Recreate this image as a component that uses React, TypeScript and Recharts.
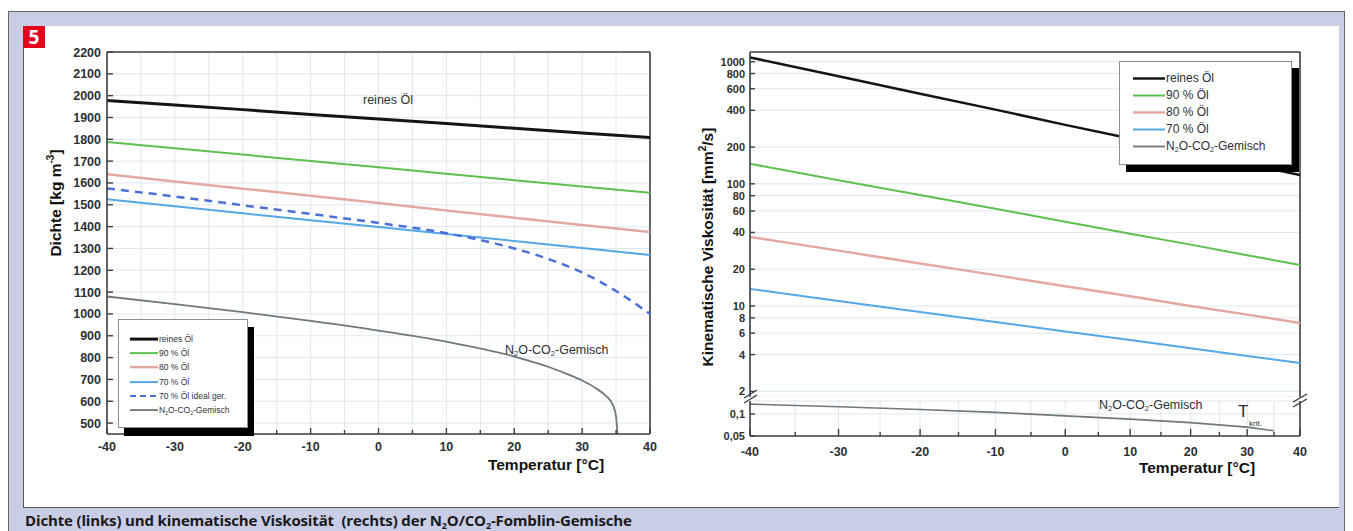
import React from 'react';
import { LineChart, Line, XAxis, YAxis, CartesianGrid, ReferenceLine } from 'recharts';

// ---- left panel: density ----
const tempsL = [-40, -30, -20, -10, 0, 10, 20, 30, 40];
const densPure = [1978, 1957, 1936, 1914, 1893, 1872, 1851, 1829, 1808];
const dens90 = [1788, 1759, 1730, 1701, 1672, 1642, 1613, 1584, 1555];
const dens80 = [1640, 1607, 1574, 1541, 1508, 1474, 1441, 1408, 1375];
const dens70 = [1525, 1493, 1461, 1429, 1398, 1366, 1334, 1302, 1270];
const tempsIdeal = [-40, -30, -20, -10, 0, 10, 20, 25, 30, 35, 40];
const dens70Ideal = [1575, 1538, 1498, 1458, 1417, 1370, 1300, 1252, 1190, 1105, 1000];
const tempsGas = [-40, -30, -20, -10, 0, 10, 20, 25, 28, 30, 32, 33.5, 34.5, 35, 35.2];
const densGas = [1080, 1045, 1008, 968, 924, 873, 805, 758, 722, 695, 660, 625, 585, 530, 450];

const xTicksL = [-40, -35, -30, -25, -20, -15, -10, -5, 0, 5, 10, 15, 20, 25, 30, 35, 40];
const yTicksL = [500, 600, 700, 800, 900, 1000, 1100, 1200, 1300, 1400, 1500, 1600, 1700, 1800, 1900, 2000, 2100, 2200];

// ---- right panel: kinematic viscosity (x axis is 1/T) ----
const tempsR = [-40, -30, -20, -10, 0, 10, 20, 30, 40];
const viscPure = [1084, 759, 546, 405, 304, 235, 184, 146, 118];
const visc90 = [146, 107, 81, 62.5, 49, 39, 31.8, 26, 21.7];
const visc80 = [36.8, 28.4, 22.3, 17.9, 14.5, 12.0, 10.0, 8.5, 7.26];
const visc70 = [13.8, 11.0, 8.95, 7.4, 6.19, 5.26, 4.51, 3.9, 3.41];
const tempsGasR = [-40, -30, -20, -10, 0, 10, 20, 30, 35];
const viscGas = [0.136, 0.125, 0.115, 0.105, 0.094, 0.085, 0.076, 0.066, 0.059];

const xTempsR = [-40, -35, -30, -25, -20, -15, -10, -5, 0, 5, 10, 15, 20, 25, 30, 35, 40];
const yTicksUpper = [2, 4, 6, 8, 10, 20, 40, 60, 80, 100, 200, 400, 600, 800, 1000];
const yTicksLower = [0.05, 0.1];

const inv = (t: number) => 1000 / (t + 273.15);
const INV_MIN = inv(40);
const INV_MAX = inv(-40);

const rowsL = (xs: number[], ys: number[]) => xs.map((t, i) => ({ t, v: ys[i] }));
const rowsR = (xs: number[], ys: number[]) => xs.map((t, i) => ({ inv: inv(t), v: ys[i] }));

const FONT = '"Liberation Sans", Arial, Helvetica, sans-serif';
const AX = '#3a4045';
const TXT = '#2c3034';
const GRID = '#dfe7ef';

const C_PURE = '#141414';
const C_90 = '#5fbf4f';
const C_80 = '#e4a8a3';
const C_70 = '#55a7e6';
const C_IDEAL = '#4d6fd6';
const C_GAS = '#6f787c';

const Gas = () => (
  <span>
    N<sub style={{ fontSize: '0.6em', verticalAlign: '-0.3em' }}>2</sub>O-CO
    <sub style={{ fontSize: '0.6em', verticalAlign: '-0.3em' }}>2</sub>-Gemisch
  </span>
);

function LeftXTick(props: any) {
  const { x, y, payload } = props;
  const v = payload.value;
  const major = v % 10 === 0;
  return (
    <g>
      <line x1={x} x2={x} y1={y} y2={y - (major ? 6 : 4)} stroke={AX} strokeWidth={1.4} />
      {major && (
        <text x={x} y={y + 17} textAnchor="middle" fontSize={12.5} fontWeight={700} fill={TXT} fontFamily={FONT}>
          {v}
        </text>
      )}
    </g>
  );
}

function LeftYTick(props: any) {
  const { x, y, payload } = props;
  return (
    <g>
      <line x1={x} x2={x + 6} y1={y} y2={y} stroke={AX} strokeWidth={1.4} />
      <text x={x - 6} y={y + 4.5} textAnchor="end" fontSize={12.5} fontWeight={700} fill={TXT} fontFamily={FONT}>
        {payload.value}
      </text>
    </g>
  );
}

function RightXTick(props: any) {
  const { x, y, payload } = props;
  const t = Math.round(1000 / payload.value - 273.15);
  const major = t % 10 === 0;
  return (
    <g>
      <line x1={x} x2={x} y1={y} y2={y - (major ? 7 : 4)} stroke={AX} strokeWidth={1.4} />
      {major && (
        <text x={x} y={y + 20} textAnchor="middle" fontSize={12.5} fontWeight={700} fill={TXT} fontFamily={FONT}>
          {t}
        </text>
      )}
    </g>
  );
}

function RightYTick(props: any) {
  const { x, y, payload } = props;
  const label = String(payload.value).replace('.', ',');
  return (
    <g>
      <line x1={x} x2={x + 5} y1={y} y2={y} stroke={AX} strokeWidth={1.4} />
      <text x={x - 5} y={y + 4} textAnchor="end" fontSize={11} fontWeight={700} fill={TXT} fontFamily={FONT}>
        {label}
      </text>
    </g>
  );
}

type Entry = { name: React.ReactNode; color: string; w: number; dash?: boolean };

const legendL: Entry[] = [
  { name: 'reines Öl', color: C_PURE, w: 3 },
  { name: '90 % Öl', color: C_90, w: 2 },
  { name: '80 % Öl', color: C_80, w: 2.5 },
  { name: '70 % Öl', color: C_70, w: 2 },
  { name: '70 % Öl ideal ger.', color: C_IDEAL, w: 2, dash: true },
  { name: <Gas />, color: C_GAS, w: 1.8 },
];

const legendR: Entry[] = [
  { name: 'reines Öl', color: C_PURE, w: 2.5 },
  { name: '90 % Öl', color: C_90, w: 2 },
  { name: '80 % Öl', color: C_80, w: 2.5 },
  { name: '70 % Öl', color: C_70, w: 2 },
  { name: <Gas />, color: C_GAS, w: 1.8 },
];

function LegendBox(p: {
  items: Entry[]; left: number; top: number; width: number; height: number;
  padTop: number; row: number; sample: [number, number]; fontSize: number; shadow: [number, number];
}) {
  return (
    <div
      style={{
        position: 'absolute', left: p.left, top: p.top, width: p.width, height: p.height,
        background: '#fff', border: '1px solid #8a8f93', boxSizing: 'border-box',
        boxShadow: `${p.shadow[0]}px ${p.shadow[1]}px 0 #000`,
      }}
    >
      {p.items.map((it, i) => (
        <div key={i} style={{ position: 'absolute', left: 0, top: p.padTop + i * p.row - p.row / 2, height: p.row, width: '100%' }}>
          <svg style={{ position: 'absolute', left: p.sample[0], top: 0 }} width={p.sample[1] - p.sample[0]} height={p.row}>
            <line
              x1={0} x2={p.sample[1] - p.sample[0]} y1={p.row / 2} y2={p.row / 2}
              stroke={it.color} strokeWidth={it.w} strokeDasharray={it.dash ? '6 4' : undefined}
            />
          </svg>
          <div
            style={{
              position: 'absolute', left: p.sample[1] + 1, top: 0, lineHeight: `${p.row}px`,
              fontSize: p.fontSize, color: TXT, whiteSpace: 'nowrap', fontFamily: FONT,
            }}
          >
            {it.name}
          </div>
        </div>
      ))}
    </div>
  );
}

const abs = (left: number, top: number, extra: React.CSSProperties = {}): React.CSSProperties => ({
  position: 'absolute', left, top, ...extra,
});

export default function App() {
  return (
    <div style={{ position: 'absolute', left: 0, top: 0, width: 1353, height: 531, background: '#fff', overflow: 'hidden', fontFamily: FONT }}>
      {/* frame */}
      <div style={abs(8, 11, { width: 1337, height: 540, background: '#c9cde6', border: '1px solid #666', boxSizing: 'border-box' })} />
      <div style={abs(23, 26, { width: 1316, height: 482, background: '#fff', borderLeft: '1px solid #555', borderBottom: '1px solid #555', boxSizing: 'border-box' })} />
      <div style={abs(23, 26, { width: 22, height: 22, background: '#e3001b', color: '#fff', fontWeight: 700, fontSize: 19, lineHeight: '22px', textAlign: 'center', fontFamily: '"Open Sans", sans-serif' })}>
        5
      </div>

      {/* left chart */}
      <div style={abs(40, 40)}>
        <LineChart width={640} height={430} margin={{ top: 12, right: 30, bottom: 0, left: 0 }}>
          <CartesianGrid stroke={GRID} strokeWidth={1} />
          <XAxis
            type="number" dataKey="t" domain={[-40, 40]} ticks={xTicksL} interval={0} allowDataOverflow
            height={36} tickSize={0} tickMargin={0} tickLine={false}
            axisLine={{ stroke: AX, strokeWidth: 1.6 }} tick={LeftXTick}
          />
          <YAxis
            type="number" domain={[450, 2200]} ticks={yTicksL} interval={0} allowDataOverflow
            width={67} tickSize={0} tickMargin={0} tickLine={false}
            axisLine={{ stroke: AX, strokeWidth: 1.6 }} tick={LeftYTick}
          />
          <ReferenceLine x={40} stroke={AX} strokeWidth={1.6} />
          <ReferenceLine y={2200} stroke={AX} strokeWidth={1.6} />
          <Line data={rowsL(tempsL, densPure)} dataKey="v" stroke={C_PURE} strokeWidth={3} dot={false} activeDot={false} isAnimationActive={false} />
          <Line data={rowsL(tempsL, dens90)} dataKey="v" stroke={C_90} strokeWidth={2} dot={false} activeDot={false} isAnimationActive={false} />
          <Line data={rowsL(tempsL, dens80)} dataKey="v" stroke={C_80} strokeWidth={2.5} dot={false} activeDot={false} isAnimationActive={false} />
          <Line data={rowsL(tempsL, dens70)} dataKey="v" stroke={C_70} strokeWidth={2} dot={false} activeDot={false} isAnimationActive={false} />
          <Line data={rowsL(tempsIdeal, dens70Ideal)} dataKey="v" type="monotone" stroke={C_IDEAL} strokeWidth={2.5} strokeDasharray="8 6" dot={false} activeDot={false} isAnimationActive={false} />
          <Line data={rowsL(tempsGas, densGas)} dataKey="v" type="monotone" stroke={C_GAS} strokeWidth={1.8} dot={false} activeDot={false} isAnimationActive={false} />
        </LineChart>
      </div>

      <LegendBox items={legendL} left={118} top={319} width={130} height={109} padTop={19} row={14.2} sample={[11, 39]} fontSize={8.5} shadow={[6, 8]} />

      <div style={abs(363, 92, { fontSize: 12.5, color: TXT, lineHeight: '16px' })}>reines Öl</div>
      <div style={abs(505, 342, { fontSize: 12.5, color: TXT, lineHeight: '16px' })}><Gas /></div>

      <div style={abs(55, 203, { transform: 'translate(-50%, -50%) rotate(-90deg)', fontSize: 15.5, fontWeight: 700, color: '#111', whiteSpace: 'nowrap' })}>
        Dichte [kg m<sup style={{ fontSize: '0.65em' }}>-3</sup>]
      </div>
      <div style={abs(546, 465, { transform: 'translate(-50%, -50%)', fontSize: 15.5, fontWeight: 700, color: '#111', whiteSpace: 'nowrap' })}>
        Temperatur [°C]
      </div>

      {/* right chart, upper part (oil mixtures) */}
      <div style={abs(690, 40)}>
        <LineChart width={640} height={357} margin={{ top: 12, right: 30, bottom: 0, left: 0 }}>
          <CartesianGrid stroke={GRID} strokeWidth={1} />
          <XAxis
            type="number" dataKey="inv" domain={[INV_MIN, INV_MAX]} reversed allowDataOverflow
            ticks={xTempsR.map(inv)} interval={0} height={0} tick={false} tickLine={false} axisLine={false}
          />
          <YAxis
            type="number" scale="log" domain={[1.8, 1200]} ticks={yTicksUpper} interval={0} allowDataOverflow
            width={60} tickSize={0} tickMargin={0} tickLine={false}
            axisLine={{ stroke: AX, strokeWidth: 1.6 }} tick={RightYTick}
          />
          <ReferenceLine x={INV_MIN} stroke={AX} strokeWidth={1.6} />
          <ReferenceLine y={1200} stroke={AX} strokeWidth={1.6} />
          <Line data={rowsR(tempsR, viscPure)} dataKey="v" stroke={C_PURE} strokeWidth={2.5} dot={false} activeDot={false} isAnimationActive={false} />
          <Line data={rowsR(tempsR, visc90)} dataKey="v" stroke={C_90} strokeWidth={2} dot={false} activeDot={false} isAnimationActive={false} />
          <Line data={rowsR(tempsR, visc80)} dataKey="v" stroke={C_80} strokeWidth={2.5} dot={false} activeDot={false} isAnimationActive={false} />
          <Line data={rowsR(tempsR, visc70)} dataKey="v" stroke={C_70} strokeWidth={2} dot={false} activeDot={false} isAnimationActive={false} />
        </LineChart>
      </div>

      {/* right chart, lower part (gas mixture) */}
      <div style={abs(690, 395)}>
        <LineChart width={640} height={80} margin={{ top: 6, right: 30, bottom: 0, left: 0 }}>
          <CartesianGrid stroke={GRID} strokeWidth={1} />
          <XAxis
            type="number" dataKey="inv" domain={[INV_MIN, INV_MAX]} reversed allowDataOverflow
            ticks={xTempsR.map(inv)} interval={0} height={39} tickSize={0} tickMargin={0} tickLine={false}
            axisLine={{ stroke: AX, strokeWidth: 1.6 }} tick={RightXTick}
          />
          <YAxis
            type="number" scale="log" domain={[0.05, 0.15]} ticks={yTicksLower} interval={0} allowDataOverflow
            width={60} tickSize={0} tickMargin={0} tickLine={false}
            axisLine={{ stroke: AX, strokeWidth: 1.6 }} tick={RightYTick}
          />
          <ReferenceLine x={INV_MIN} stroke={AX} strokeWidth={1.6} />
          <Line data={rowsR(tempsGasR, viscGas)} dataKey="v" stroke={C_GAS} strokeWidth={1.6} dot={false} activeDot={false} isAnimationActive={false} />
        </LineChart>
      </div>

      {/* axis break marks */}
      <svg style={abs(0, 0, { pointerEvents: 'none' })} width={1353} height={531}>
        <line x1={744} y1={398} x2={757} y2={390} stroke={AX} strokeWidth={1.4} />
        <line x1={744} y1={403} x2={757} y2={395} stroke={AX} strokeWidth={1.4} />
        <line x1={1293} y1={402} x2={1307} y2={394} stroke={AX} strokeWidth={1.4} />
        <line x1={1293} y1={407} x2={1307} y2={399} stroke={AX} strokeWidth={1.4} />
      </svg>

      <LegendBox items={legendR} left={1119} top={61} width={173} height={104} padTop={16} row={17} sample={[13, 45]} fontSize={12} shadow={[7, 7]} />

      <div style={abs(1099, 397, { fontSize: 12.5, color: TXT, lineHeight: '16px' })}><Gas /></div>
      <div style={abs(1238, 403, { fontSize: 17, color: TXT, lineHeight: '18px' })}>T</div>
      <div style={abs(1249, 419, { fontSize: 8, color: TXT, lineHeight: '10px' })}>krit.</div>

      <div style={abs(707, 247, { transform: 'translate(-50%, -50%) rotate(-90deg)', fontSize: 15.5, fontWeight: 700, color: '#111', whiteSpace: 'nowrap' })}>
        Kinematische Viskosität [mm<sup style={{ fontSize: '0.65em' }}>2</sup>/s]
      </div>
      <div style={abs(1197, 468, { transform: 'translate(-50%, -50%)', fontSize: 15.5, fontWeight: 700, color: '#111', whiteSpace: 'nowrap' })}>
        Temperatur [°C]
      </div>

      {/* caption */}
      <div style={abs(25, 510, { fontSize: 15, fontWeight: 700, color: '#1a1a1a', fontFamily: '"Open Sans", sans-serif', whiteSpace: 'pre', lineHeight: '20px', letterSpacing: -0.15 })}>
        Dichte (links) und kinematische Viskosität  (rechts) der N<sub style={{ fontSize: '0.6em', verticalAlign: '-0.3em' }}>2</sub>O/CO<sub style={{ fontSize: '0.6em', verticalAlign: '-0.3em' }}>2</sub>-Fomblin-Gemische
      </div>
    </div>
  );
}
